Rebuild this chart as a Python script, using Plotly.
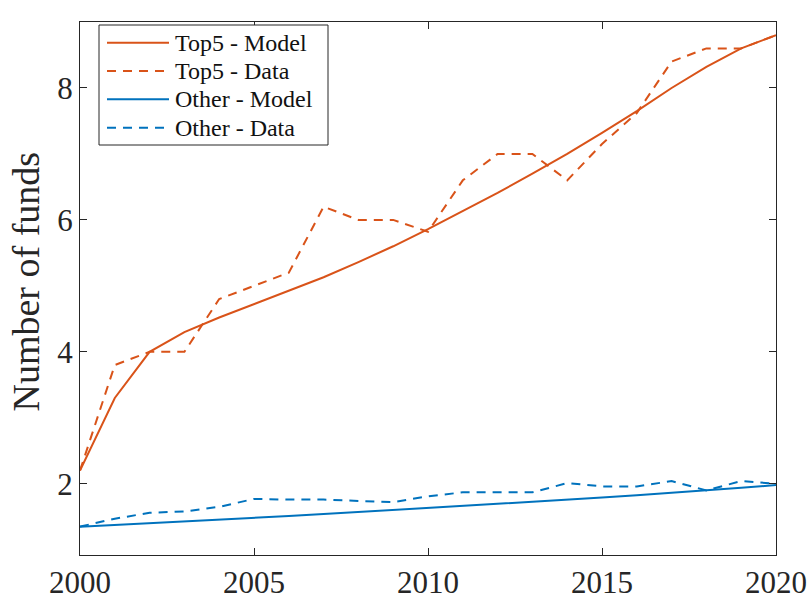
import plotly.graph_objects as go

years = list(range(2000, 2021))
top5_model = [2.2, 3.3, 4.0, 4.3, 4.52, 4.72, 4.92, 5.13, 5.36, 5.6, 5.86,
              6.13, 6.41, 6.7, 7.0, 7.32, 7.65, 8.0, 8.32, 8.6, 8.8]
top5_data = [2.2, 3.8, 4.0, 4.0, 4.8, 5.0, 5.2, 6.2, 6.0, 6.0, 5.82,
             6.6, 7.0, 7.0, 6.6, 7.15, 7.62, 8.4, 8.6, 8.6, 8.8]
other_model = [1.35, 1.375, 1.40, 1.425, 1.45, 1.48, 1.51, 1.54, 1.57, 1.60, 1.63,
               1.66, 1.69, 1.72, 1.755, 1.79, 1.825, 1.86, 1.90, 1.94, 1.98]
other_data = [1.35, 1.47, 1.56, 1.58, 1.65, 1.77, 1.76, 1.76, 1.74, 1.72, 1.81,
              1.87, 1.87, 1.87, 2.01, 1.96, 1.96, 2.04, 1.90, 2.04, 2.0]

x_ticks = [2000, 2005, 2010, 2015, 2020]
y_ticks = [2, 4, 6, 8]
series_names = ["Top5 - Model", "Top5 - Data", "Other - Model", "Other - Data"]
y_title = "Number of funds"

ORANGE = "#D95319"
BLUE = "#0072BD"
AX = "#262626"
FONT = "Liberation Serif"
DASH = "9px,7px"

series = [
    (top5_model, ORANGE, "solid"),
    (top5_data, ORANGE, DASH),
    (other_model, BLUE, "solid"),
    (other_data, BLUE, DASH),
]

fig = go.Figure()
for name, (vals, col, dash) in zip(series_names, series):
    fig.add_trace(go.Scatter(x=years, y=vals, mode="lines", name=name,
                             line=dict(color=col, width=2, dash=dash),
                             showlegend=False))

# plot area in pixels (for the hand-drawn legend box and title)
L, R, T, B = 80, 776, 22, 555
W, H = R - L, B - T
def px(xp):
    return (xp - L) / W
def py(yp):
    return (B - yp) / H

shapes = [dict(type="rect", xref="paper", yref="paper",
               x0=px(99), x1=px(328), y0=py(145), y1=py(25),
               line=dict(color=AX, width=1), fillcolor="white", layer="above")]
annotations = []
row_y = [42.7, 71.0, 99.3, 127.7]
for (name, (vals, col, dash)), ry in zip(zip(series_names, series), row_y):
    shapes.append(dict(type="line", xref="paper", yref="paper",
                       x0=px(107), x1=px(169), y0=py(ry), y1=py(ry),
                       line=dict(color=col, width=2, dash=dash), layer="above"))
    annotations.append(dict(xref="paper", yref="paper", x=px(173), y=py(ry),
                            xanchor="left", yanchor="middle", showarrow=False,
                            text=name, font=dict(family=FONT, size=24, color="#111111")))

annotations.append(dict(xref="paper", yref="paper", x=px(25), y=py(281.5),
                        xanchor="center", yanchor="middle", showarrow=False,
                        textangle=-90, text=y_title,
                        font=dict(family=FONT, size=38, color=AX)))

axis_common = dict(
    showline=True, linecolor=AX, linewidth=1, mirror="ticks",
    ticks="inside", ticklen=7, tickcolor=AX, tickwidth=1,
    showgrid=False, zeroline=False, automargin=False,
    tickfont=dict(family=FONT, size=31, color=AX),
)

fig.update_layout(
    width=811, height=601,
    margin=dict(l=L, r=811 - R, t=T, b=601 - B),
    paper_bgcolor="white", plot_bgcolor="white",
    font=dict(family=FONT, color=AX),
    xaxis=dict(range=[2000, 2020], tickvals=x_ticks, **axis_common),
    yaxis=dict(range=[0.92, 9.0], tickvals=y_ticks, **axis_common),
    shapes=shapes,
    annotations=annotations,
    showlegend=False,
)

fig.write_html("out.html")
